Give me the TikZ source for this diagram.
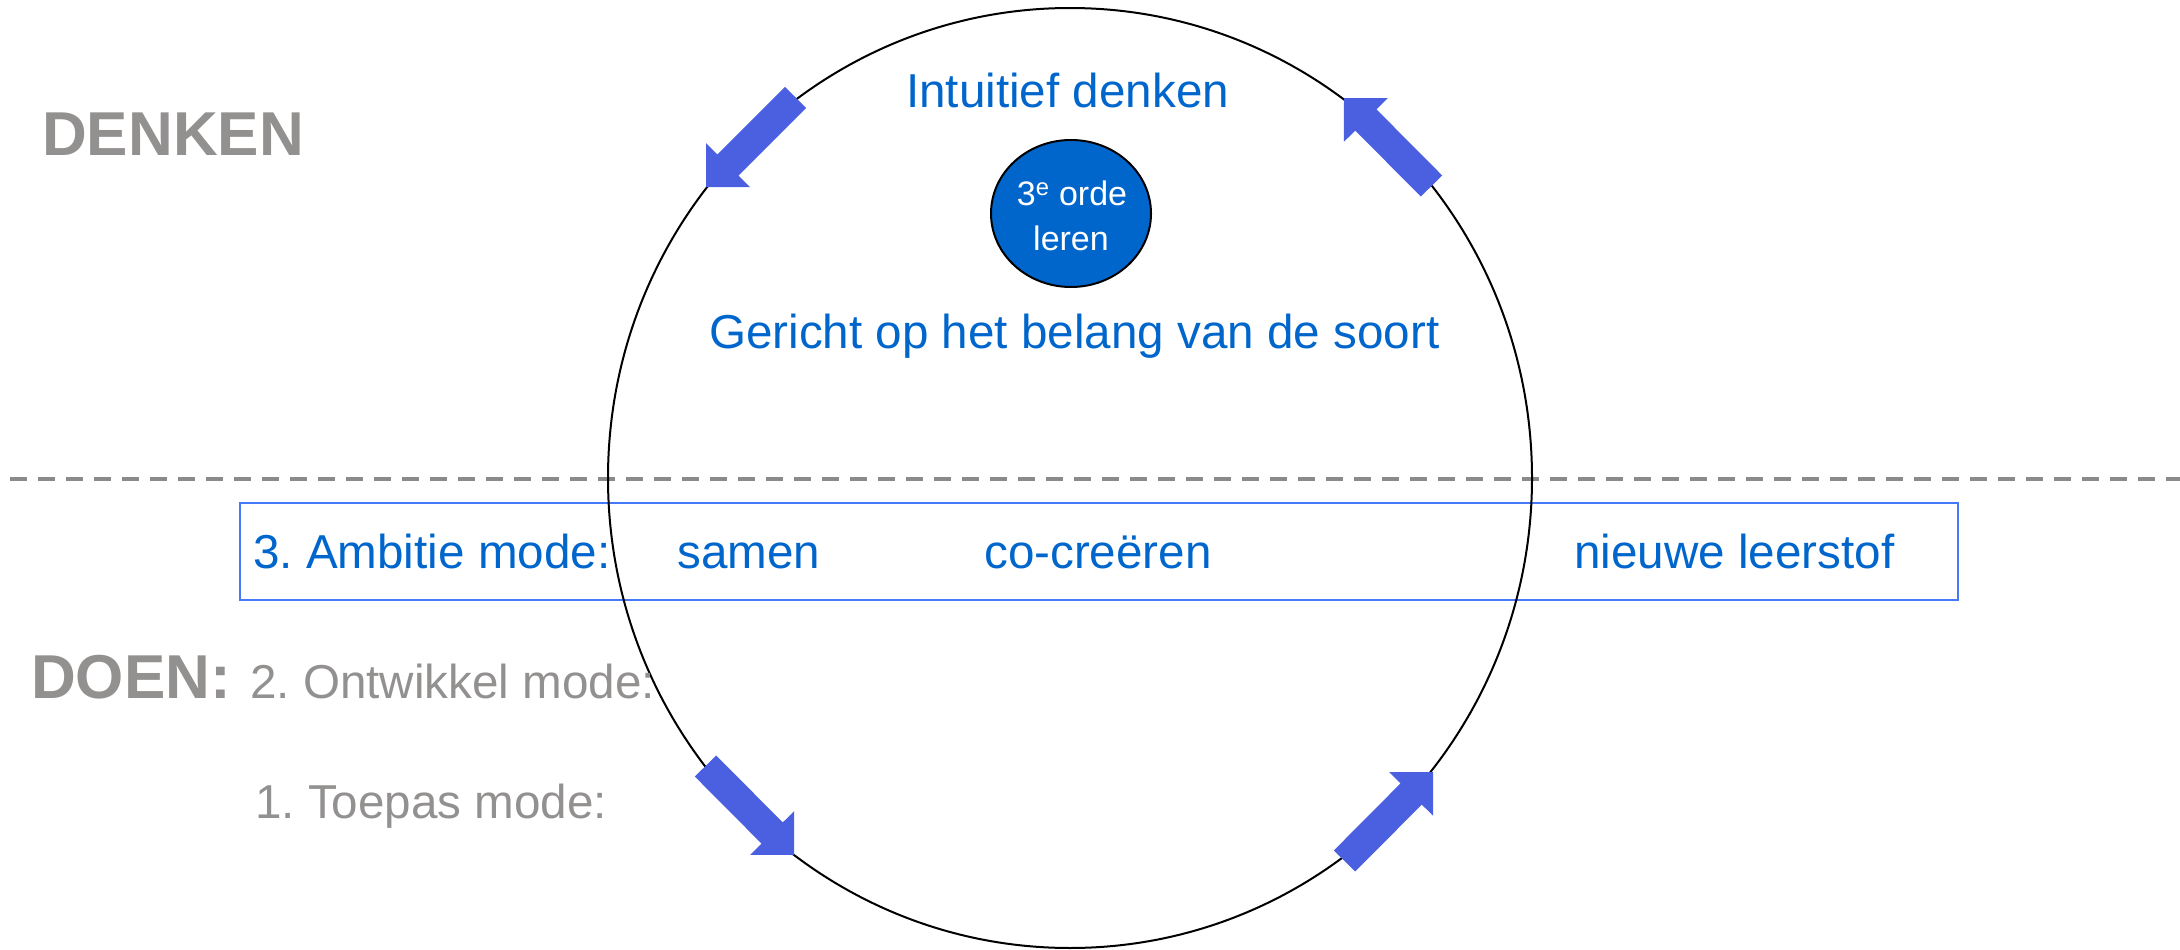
\documentclass[tikz,border=0pt]{standalone}
\usepackage{fontspec}
\setmainfont{Liberation Sans}
\usetikzlibrary{calc,shapes.geometric}
\definecolor{txtblue}{RGB}{0,102,204}
\definecolor{txtgray}{RGB}{147,144,144}
\definecolor{dashgray}{RGB}{138,138,138}
\definecolor{arrowblue}{RGB}{74,96,224}
\definecolor{boxblue}{RGB}{70,120,250}
\frenchspacing
\newcommand{\blkarrow}[3]{%
  \coordinate (#1t) at #2;
  \coordinate (#1p) at #3;
  \coordinate (#1n) at ($(#1p)!31pt!(#1t)$);
  \fill[blockarrow] ($(#1t)!15pt!90:(#1p)$) -- ($(#1n)!15pt!90:(#1p)$) -- ($(#1n)!31pt!90:(#1p)$) -- (#1p)
    -- ($(#1n)!31pt!-90:(#1p)$) -- ($(#1n)!15pt!-90:(#1p)$) -- ($(#1t)!15pt!-90:(#1p)$) -- cycle;
}
\tikzset{
  blockarrow/.style={fill=arrowblue},
  bluetext/.style={text=txtblue, anchor=base west, inner sep=0pt, font=\fontsize{47.6}{58}\selectfont\frenchspacing},
  graytext/.style={text=txtgray, anchor=base west, inner sep=0pt, font=\fontsize{47.6}{58}\selectfont\frenchspacing},
  headtext/.style={text=txtgray, anchor=base west, inner sep=0pt, font=\fontsize{62}{72}\selectfont\bfseries},
  whitetext/.style={text=white, anchor=base, inner sep=0pt, font=\fontsize{34}{40}\selectfont},
}
\begin{document}
\begin{tikzpicture}[x=1pt,y=-1pt]
\useasboundingbox (0,0) rectangle (2180,950);
% dashed divider
\coordinate (dl) at (10,479);
\coordinate (dr) at (2180,479);
\draw[dashgray, line width=4pt, dash pattern=on 17pt off 11pt] (dl) -- (dr);
% blue box
\node[draw=boxblue, line width=2pt, minimum width=1718pt, minimum height=97pt, inner sep=0pt, anchor=north west] (box) at (239,502) {};
% big circle
\node[draw=black, line width=2pt, ellipse, minimum width=924pt, minimum height=940pt, inner sep=0pt] (circ) at (1070,478) {};
% arrows
\blkarrow{a1}{(795.5,97.5)}{(706,187)}
\blkarrow{a2}{(1431.5,186)}{(1344,98)}
\blkarrow{a3}{(705.5,766)}{(794,855)}
\blkarrow{a4}{(1344.5,861)}{(1433,772)}
% inner ellipse
\node[draw=black, line width=2pt, fill=txtblue, ellipse, minimum width=160pt, minimum height=147pt, inner sep=0pt] (orde) at (1071,213.5) {};
\node[whitetext] (ordeA) at (1072,205) {3\textsuperscript{e} orde};
\node[whitetext] (ordeB) at (1071,250) {leren};
% texts
\node[headtext] (denken) at (42,155) {DENKEN};
\node[headtext] (doen) at (31,698) {DOEN:};
\node[graytext] (ontw) at (250,698) {2. Ontwikkel mode:};
\node[graytext] (toep) at (255,818) {1. Toepas mode:};
\node[bluetext] (intu) at (906,107) {Intuitief denken};
\node[bluetext] (geri) at (709,348) {Gericht op het belang van de soort};
\node[bluetext] (amb) at (253,568) {3. Ambitie mode:};
\node[bluetext] (samen) at (677,568) {samen};
\node[bluetext] (cocr) at (984,568) {co-creëren};
\node[bluetext] (nieuw) at (1574,568) {nieuwe leerstof};
\end{tikzpicture}
\end{document}
